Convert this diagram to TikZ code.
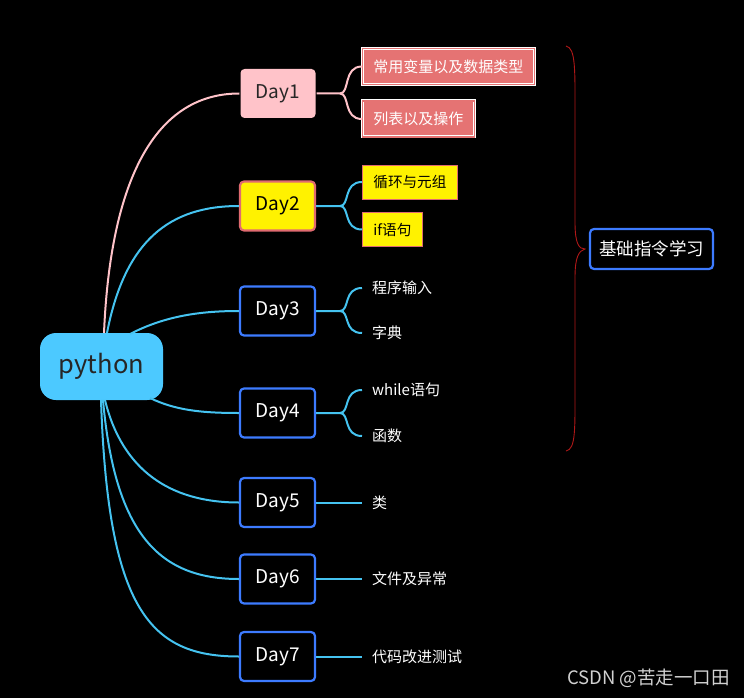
\documentclass[tikz,border=0pt]{standalone}
\usepackage{fontspec}
\setmainfont{Noto Sans CJK SC}
\begin{document}
\begin{tikzpicture}[x=1pt,y=-1pt,
  cyanline/.style={draw=lc,line width=2pt},
  pinkline/.style={draw=pk,line width=2pt},
  daybox/.style={draw=bb,line width=2.2pt,fill=black,rounded corners=4pt,minimum width=75pt,minimum height=49pt,text=white,font=\fontsize{19}{22}\selectfont,inner sep=0pt},
  leafred/.style={draw=white,double=lr,double distance=1.4pt,line width=0.8pt,fill=lr,text=white,font=\fontsize{15}{17}\selectfont,minimum height=36pt,inner xsep=11pt,inner ysep=6pt},
  leafyel/.style={draw=yb,line width=0.8pt,fill=yellow,text=black,font=\fontsize{14.6}{17}\selectfont,minimum height=34pt,inner xsep=11pt,inner ysep=6pt},
  leaftext/.style={text=white,font=\fontsize{15}{17}\selectfont,anchor=west,inner sep=0pt}]
\definecolor{lc}{HTML}{45C3F0}
\definecolor{pk}{HTML}{FFC3C9}
\definecolor{bb}{HTML}{3D7BFF}
\definecolor{lr}{HTML}{E57373}
\definecolor{yb}{HTML}{E06A70}
\definecolor{br}{HTML}{B01818}
\definecolor{py}{HTML}{4CC9FF}
\fill[black] (0,0) rectangle (744,698);
\useasboundingbox (0,0) rectangle (744,698);

% root
\node[fill=py,rounded corners=16pt,minimum width=123pt,minimum height=67pt,inner sep=0pt,text=black!85,font=\fontsize{25.5}{30}\selectfont] (py) at (101.5,366.5) {python};

% days
\node[daybox,draw=none,fill=pk,text=black!85] (d1) at (278,93.5) {Day1};
\node[daybox,draw=yb,fill=yellow,text=black] (d2) at (277.5,206) {Day2};
\node[daybox] (d3) at (277.5,311) {Day3};
\node[daybox] (d4) at (277.5,413) {Day4};
\node[daybox] (d5) at (277.5,502.5) {Day5};
\node[daybox] (d6) at (277.5,579) {Day6};
\node[daybox] (d7) at (277.5,656.5) {Day7};

% root connectors
\coordinate (r1) at (104,333);
\coordinate (r2) at (107,333);
\coordinate (r3) at (130,334);
\coordinate (r4) at (150,398);
\coordinate (r5) at (105,400);
\coordinate (r6) at (103,400);
\coordinate (r7) at (101,400);
\draw[pinkline] (r1) .. controls (110,190) and (150,93.5) .. (d1.west);
\draw[cyanline] (r2) .. controls (125,240) and (170,206) .. (d2.west);
\draw[cyanline] (r3) .. controls (165,316) and (200,311) .. (d3.west);
\draw[cyanline] (r4) .. controls (175,410) and (200,413) .. (d4.west);
\draw[cyanline] (r5) .. controls (122,470) and (170,502.5) .. (d5.west);
\draw[cyanline] (r6) .. controls (115,535) and (160,579) .. (d6.west);
\draw[cyanline] (r7) .. controls (108,610) and (150,656.5) .. (d7.west);

% leaves
\node[leafred,anchor=west] (l11) at (362,66.5) {常用变量以及数据类型};
\node[leafred,anchor=west] (l12) at (362,119) {列表以及操作};
\node[leafyel,anchor=west] (l21) at (362,182) {循环与元组};
\node[leafyel,anchor=west] (l22) at (362,229.5) {if语句};
\coordinate (e31) at (362,288);
\coordinate (e32) at (362,333);
\coordinate (e41) at (362,390);
\coordinate (e42) at (362,436);
\coordinate (e5) at (362,502.5);
\coordinate (e6) at (362,579);
\coordinate (e7) at (362,656.5);
\node[leaftext] (l31) at (372,288) {程序输入};
\node[leaftext] (l32) at (372,333) {字典};
\node[leaftext] (l41) at (372,390) {while语句};
\node[leaftext] (l42) at (372,436) {函数};
\node[leaftext] (l5) at (372,502.5) {类};
\node[leaftext] (l6) at (372,579) {文件及异常};
\node[leaftext] (l7) at (372,656.5) {代码改进测试};

% branch connectors
\coordinate (s1) at (340,93.5);
\coordinate (s2) at (340,206);
\coordinate (s3) at (340,311);
\coordinate (s4) at (340,413);
\draw[pinkline] (d1.east) -- (s1) .. controls (350,93.5) and (343,66.5) .. (l11.west);
\draw[pinkline] (s1) .. controls (350,93.5) and (343,119) .. (l12.west);
\draw[cyanline] (d2.east) -- (s2) .. controls (350,206) and (343,182) .. (l21.west);
\draw[cyanline] (s2) .. controls (350,206) and (343,229.5) .. (l22.west);
\draw[cyanline] (d3.east) -- (s3) .. controls (350,311) and (343,288) .. (e31);
\draw[cyanline] (s3) .. controls (350,311) and (343,333) .. (e32);
\draw[cyanline] (d4.east) -- (s4) .. controls (350,413) and (343,390) .. (e41);
\draw[cyanline] (s4) .. controls (350,413) and (343,436) .. (e42);
\draw[cyanline] (d5.east) -- (e5);
\draw[cyanline] (d6.east) -- (e6);
\draw[cyanline] (d7.east) -- (e7);

% brace and summary
\coordinate (bt) at (566,46);
\coordinate (bb2) at (566,451);
\node[draw=bb,line width=2.2pt,fill=black,rounded corners=4pt,minimum width=123pt,minimum height=40pt,inner sep=0pt,text=white,font=\fontsize{17.5}{20}\selectfont] (sum) at (651.5,249) {基础指令学习};
\draw[br,line width=0.9pt] (bt) .. controls (576,48) and (575,70) .. (575,120) -- (575,222) .. controls (575,244) and (579,249) .. (sum.west -| 585,249)
  .. controls (579,251) and (575,256) .. (575,278) -- (575,380) .. controls (575,430) and (576,449) .. (bb2);

% footer text
\node[anchor=east,text=black!18,font=\fontsize{18.5}{21}\selectfont,inner sep=0pt] (csdn) at (730,678) {CSDN @苦走一口田};
\end{tikzpicture}
\end{document}
